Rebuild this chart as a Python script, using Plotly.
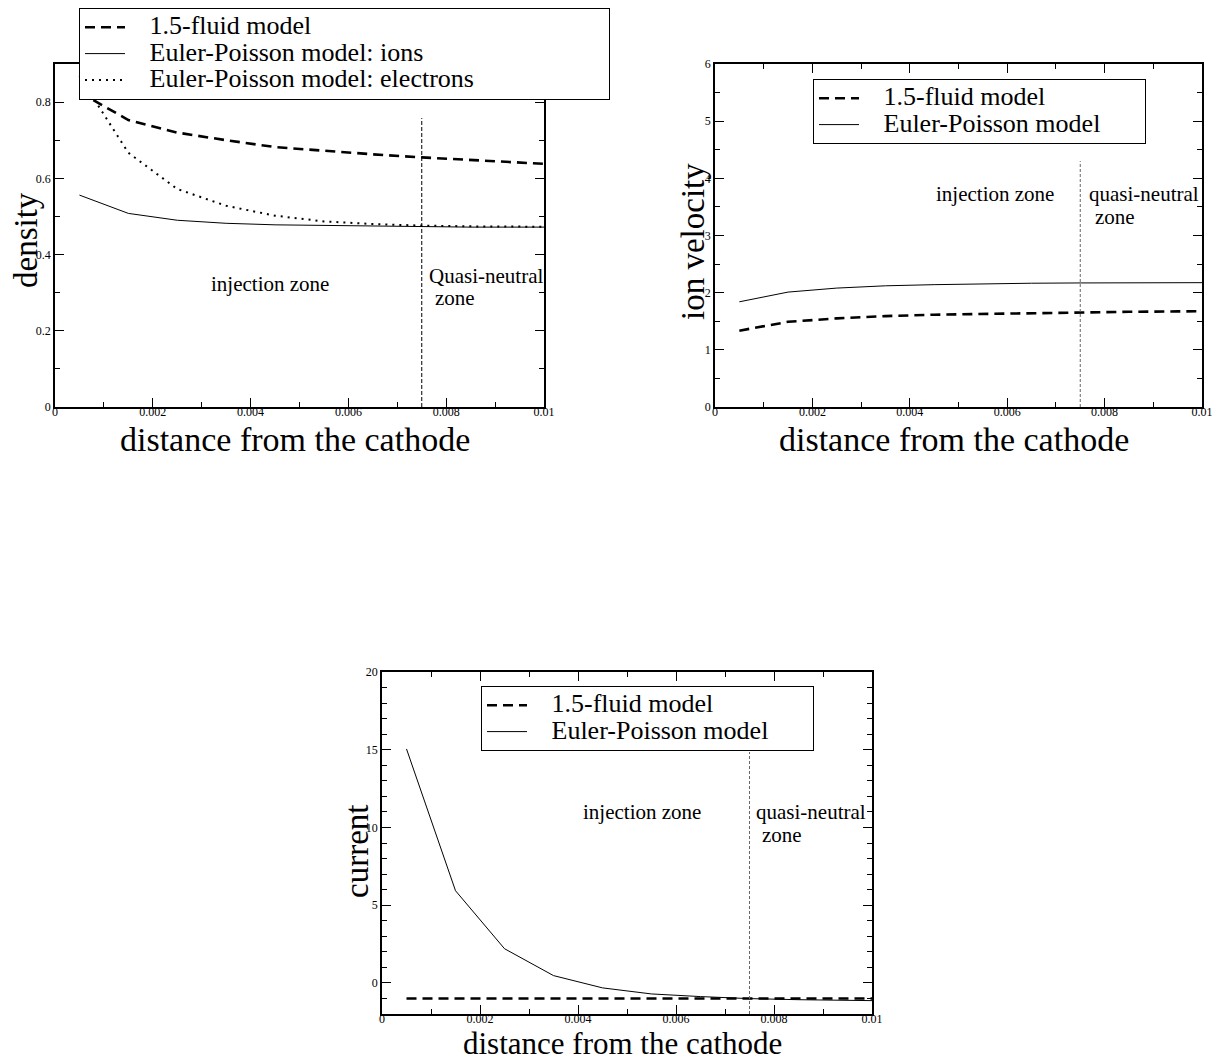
import plotly.graph_objects as go

# ---------------- data ----------------
x_grid = [0.0005, 0.0015, 0.0025, 0.0035, 0.0045, 0.0055, 0.0065, 0.0075, 0.0085, 0.0095, 0.01]

dens_fluid = [0.826, 0.753, 0.720, 0.700, 0.682, 0.672, 0.663, 0.655, 0.648, 0.641, 0.638]
dens_ions = [0.556, 0.508, 0.490, 0.482, 0.478, 0.476, 0.474, 0.473, 0.472, 0.472, 0.472]
dens_electrons = [0.868, 0.667, 0.572, 0.528, 0.502, 0.487, 0.480, 0.476, 0.474, 0.473, 0.473]

vel_fluid = [1.335, 1.49, 1.55, 1.59, 1.615, 1.63, 1.645, 1.656, 1.665, 1.672, 1.675]
vel_ep = [1.84, 2.01, 2.08, 2.12, 2.14, 2.155, 2.165, 2.17, 2.175, 2.175, 2.175]

cur_fluid = [-1.0, -1.0, -1.0, -1.0, -1.0, -1.0, -1.0, -1.0, -1.0, -1.0, -1.0]
cur_ep = [15.05, 5.93, 2.2, 0.47, -0.32, -0.71, -0.88, -1.01, -1.08, -1.12, -1.14]

zone_x = [0.0075, 0.0075]
zone_dens = [0.0, 0.758]
zone_vel = [0.0, 4.3]
zone_cur = [-2.0, 14.85]

x_title = "distance from the cathode"
y_titles = ["density", "ion velocity", "current"]

# ---------------- styling ----------------
SERIF = "Liberation Serif"
W, H = 1221, 1061
OFF = 8  # page body margin of the html page


def PX(px):
    return (px - OFF) / W


def PY(py):
    return 1 - (py - OFF) / H


FLUID = dict(color="black", width=2.6, dash="10px,6px")
SOLID = dict(color="black", width=1)
DOTS = dict(color="black", width=2, dash="2px,5px")
NB = "\u00a0"


def leg(txt, pad=0):
    return '<span style="font-size:26px">' + NB * 3 + txt + NB * pad + "</span>"


fig = go.Figure()

# top-left: density
fig.add_trace(go.Scatter(x=x_grid, y=dens_fluid, mode="lines", line=FLUID,
                         name=leg("1.5-fluid model"), xaxis="x", yaxis="y", legend="legend"))
fig.add_trace(go.Scatter(x=x_grid, y=dens_ions, mode="lines", line=SOLID,
                         name=leg("Euler-Poisson model: ions"), xaxis="x", yaxis="y", legend="legend"))
fig.add_trace(go.Scatter(x=x_grid, y=dens_electrons, mode="lines", line=DOTS,
                         name=leg("Euler-Poisson model: electrons", 20), xaxis="x", yaxis="y",
                         legend="legend"))
fig.add_trace(go.Scatter(x=zone_x, y=zone_dens, mode="lines", showlegend=False, hoverinfo="skip",
                         line=dict(color="black", width=1, dash="4px,2px"), xaxis="x", yaxis="y"))

# top-right: ion velocity
fig.add_trace(go.Scatter(x=x_grid, y=vel_fluid, mode="lines", line=FLUID,
                         name=leg("1.5-fluid model"), xaxis="x2", yaxis="y2", legend="legend2"))
fig.add_trace(go.Scatter(x=x_grid, y=vel_ep, mode="lines", line=SOLID,
                         name=leg("Euler-Poisson model", 6), xaxis="x2", yaxis="y2", legend="legend2"))
fig.add_trace(go.Scatter(x=zone_x, y=zone_vel, mode="lines", showlegend=False, hoverinfo="skip",
                         line=dict(color="#666", width=1, dash="3px,2px"), xaxis="x2", yaxis="y2"))

# bottom: current
fig.add_trace(go.Scatter(x=x_grid, y=cur_fluid, mode="lines", line=FLUID,
                         name=leg("1.5-fluid model"), xaxis="x3", yaxis="y3", legend="legend3"))
fig.add_trace(go.Scatter(x=x_grid, y=cur_ep, mode="lines", line=SOLID,
                         name=leg("Euler-Poisson model", 6), xaxis="x3", yaxis="y3", legend="legend3"))
fig.add_trace(go.Scatter(x=zone_x, y=zone_cur, mode="lines", showlegend=False, hoverinfo="skip",
                         line=dict(color="#666", width=1, dash="3px,2px"), xaxis="x3", yaxis="y3"))


def xax(left, right, anchor):
    return dict(domain=[PX(left), PX(right)], range=[0, 0.01], anchor=anchor, automargin=False,
                showline=True, linecolor="black", linewidth=1.5, mirror="ticks",
                ticks="inside", ticklen=9, tickwidth=1.3, tickcolor="black",
                tick0=0, dtick=0.002, ticklabelstandoff=-7,
                minor=dict(ticks="inside", ticklen=5, tickwidth=1, tickcolor="black", dtick=0.001),
                showgrid=False, zeroline=False,
                tickfont=dict(family=SERIF, size=12, color="black"))


def yax(top, bottom, anchor, rng, dt, mdt):
    return dict(domain=[PY(bottom), PY(top)], range=rng, anchor=anchor, automargin=False,
                showline=True, linecolor="black", linewidth=1.5, mirror="ticks",
                ticks="inside", ticklen=9, tickwidth=1.3, tickcolor="black",
                tick0=0, dtick=dt,
                minor=dict(ticks="inside", ticklen=5, tickwidth=1, tickcolor="black", dtick=mdt),
                showgrid=False, zeroline=False,
                tickfont=dict(family=SERIF, size=12, color="black"))


legend_style = dict(bgcolor="white", bordercolor="black", borderwidth=1,
                    font=dict(family=SERIF, size=18, color="black"),
                    xanchor="left", yanchor="top", tracegroupgap=0, itemwidth=40)

fig.update_layout(
    width=W, height=H,
    margin=dict(l=0, r=0, t=0, b=0, autoexpand=False),
    paper_bgcolor="white", plot_bgcolor="white",
    xaxis=xax(55, 544, "y"),
    yaxis=yax(64, 407, "x", [0, 0.9], 0.2, 0.1),
    xaxis2=xax(715, 1202, "y2"),
    yaxis2=yax(64, 407, "x2", [0, 6], 1, 0.5),
    xaxis3=xax(382, 872, "y3"),
    yaxis3=yax(672, 1014, "x3", [-2, 20], 5, 1),
    legend=dict(x=PX(79), y=PY(8), **legend_style),
    legend2=dict(x=PX(813), y=PY(79), **legend_style),
    legend3=dict(x=PX(481), y=PY(686), **legend_style),
)

TXT = dict(family=SERIF, size=21, color="black")
ann = []
# axis titles
for txt, px, py in [(y_titles[0], 26, 240), (y_titles[1], 693, 242), (y_titles[2], 357, 852)]:
    ann.append(dict(text=txt, x=PX(px), y=PY(py), textangle=-90, font=dict(family=SERIF, size=33, color="black")))
for px, py, fs in [(295, 439, 34), (954, 439, 34), (622, 1043.5, 31)]:
    ann.append(dict(text=x_title, x=PX(px), y=PY(py), font=dict(family=SERIF, size=fs, color="black")))
for a in ann:
    a.update(xref="paper", yref="paper", showarrow=False, xanchor="center", yanchor="middle")
n_titles = len(ann)
# zone labels
ann += [
    dict(text="injection zone", x=0.0044, y=0.3227, xref="x", yref="y", xanchor="center"),
    dict(text="Quasi-neutral", x=0.00761, y=0.3437, xref="x", yref="y", xanchor="left"),
    dict(text="zone", x=0.00773, y=0.286, xref="x", yref="y", xanchor="left"),
    dict(text="injection zone", x=0.00575, y=3.726, xref="x2", yref="y2", xanchor="center"),
    dict(text="quasi-neutral", x=0.00764, y=3.726, xref="x2", yref="y2", xanchor="left"),
    dict(text="zone", x=0.00776, y=3.33, xref="x2", yref="y2", xanchor="left"),
    dict(text="injection zone", x=0.00531, y=11.0, xref="x3", yref="y3", xanchor="center"),
    dict(text="quasi-neutral", x=0.00759, y=11.0, xref="x3", yref="y3", xanchor="left"),
    dict(text="zone", x=0.00771, y=9.52, xref="x3", yref="y3", xanchor="left"),
]
for a in ann[n_titles:]:
    a.update(showarrow=False, yanchor="middle", font=TXT)
fig.update_layout(annotations=ann)

fig.write_html("out.html")
